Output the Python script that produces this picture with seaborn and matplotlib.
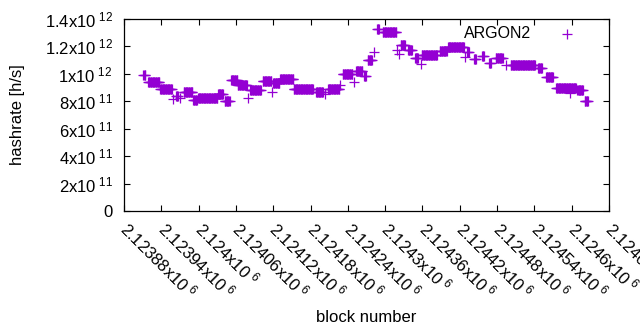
import numpy as np
import pandas as pd
import seaborn as sns
from matplotlib import pyplot as plt

# hashrate stays constant over runs of blocks; one "+" per block
seg_start = [2123911, 2123919, 2123938, 2123959, 2123964, 2123970, 2123976, 2123991, 2123999, 2124031,
             2124042, 2124052, 2124063, 2124079, 2124083, 2124103, 2124118, 2124120, 2124131, 2124153,
             2124189, 2124203, 2124208, 2124227, 2124232, 2124250, 2124253, 2124266, 2124272, 2124282,
             2124287, 2124296, 2124319, 2124322, 2124325, 2124337, 2124348, 2124358, 2124359, 2124388,
             2124401, 2124428, 2124432, 2124443, 2124456, 2124467, 2124478, 2124494, 2124502, 2124546,
             2124559, 2124575, 2124597, 2124609, 2124621]
seg_end = [2123914, 2123937, 2123957, 2123959, 2123967, 2123970, 2123990, 2123997, 2124030, 2124039,
           2124050, 2124062, 2124078, 2124079, 2124100, 2124117, 2124118, 2124130, 2124152, 2124184,
           2124200, 2124203, 2124226, 2124227, 2124247, 2124250, 2124263, 2124269, 2124279, 2124282,
           2124290, 2124318, 2124319, 2124322, 2124332, 2124343, 2124353, 2124358, 2124383, 2124399,
           2124427, 2124428, 2124435, 2124446, 2124459, 2124470, 2124489, 2124494, 2124541, 2124552,
           2124570, 2124607, 2124597, 2124618, 2124626]
# hashrate in units of 1e11 h/s
seg_value = [9.91, 9.38, 8.87, 8.2, 8.38, 8.22, 8.65, 8.09, 8.24, 8.53,
             8.02, 9.55, 9.19, 8.24, 8.82, 9.48, 8.68, 9.31, 9.6, 8.9,
             8.7, 8.53, 8.87, 9.19, 9.97, 9.43, 10.23, 9.88, 11.0, 11.61,
             13.25, 13.07, 11.74, 11.45, 12.1, 11.74, 11.13, 10.7, 11.37, 11.66,
             11.93, 11.25, 11.61, 11.06, 11.3, 10.77, 11.13, 10.64, 10.64, 10.45,
             9.79, 8.94, 8.58, 8.82, 8.04]

xtick_values = [2123880, 2123940, 2124000, 2124060, 2124120, 2124180, 2124240,
                2124300, 2124360, 2124420, 2124480, 2124540, 2124600, 2124660]
xtick_labels = ["2.12388", "2.12394", "2.124", "2.12406", "2.12412", "2.12418", "2.12424",
                "2.1243", "2.12436", "2.12442", "2.12448", "2.12454", "2.1246", "2.12466"]
ytick_values = [0, 2e11, 4e11, 6e11, 8e11, 1e12, 1.2e12, 1.4e12]
ytick_mant = ["0", "2", "4", "6", "8", "1", "1.2", "1.4"]
ytick_exp = ["", "11", "11", "11", "11", "12", "12", "12"]

blocks, rates = [], []
for s, e, v in zip(seg_start, seg_end, seg_value):
    b = np.arange(s, e + 1)
    blocks.extend(b)
    rates.extend([v * 1e11] * len(b))
df = pd.DataFrame({"block": blocks, "hashrate": rates})

plt.rcParams['font.family'] = ['Liberation Sans', 'DejaVu Sans']
plt.rcParams['mathtext.fontset'] = 'custom'
plt.rcParams['mathtext.rm'] = 'Liberation Sans'
plt.rcParams['font.size'] = 12

fig = plt.figure(figsize=(6.4, 3.3), dpi=100)
ax = fig.add_axes([124 / 640, 1 - 211 / 330, 485 / 640, 192 / 330])

sns.scatterplot(data=df, x="block", y="hashrate", marker="+", s=50,
                color="#9400D3", linewidth=0.9, label="ARGON2", ax=ax)

ax.set_xlim(2123880, 2124660)
ax.set_ylim(0, 1.4e12)
ax.set_xticks(xtick_values)
ax.set_xticklabels([r"$\mathdefault{%s x10^{\ 6}}$" % t for t in xtick_labels],
                   rotation=-45, ha="left", va="center", rotation_mode="anchor")
ax.set_yticks(ytick_values)
ax.set_yticklabels([m if not e else r"$\mathdefault{%sx10^{\ %s}}$" % (m, e)
                    for m, e in zip(ytick_mant, ytick_exp)])
ax.tick_params(direction="in", top=True, right=True, length=4, width=0.8, pad=8)
ax.tick_params(axis="x", pad=10)
for sp in ax.spines.values():
    sp.set_linewidth(0.9)

ax.set_xlabel("block number", labelpad=6)
ax.set_ylabel("hashrate [h/s]", labelpad=14)

ax.legend(loc="upper right", bbox_to_anchor=(0.946, 0.963), frameon=False,
          markerfirst=False, handlelength=2, handletextpad=1.25,
          borderpad=0, borderaxespad=0, fontsize=11.5)

fig.savefig("out.png", dpi=100)
